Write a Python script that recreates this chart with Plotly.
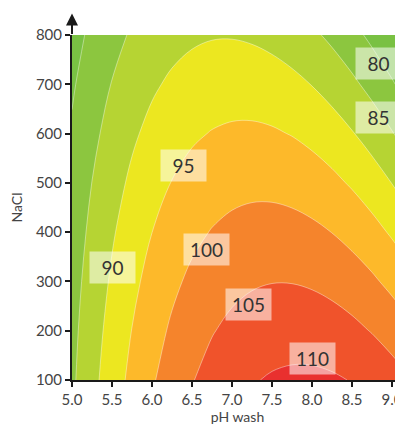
import plotly.graph_objects as go

# pH wash grid (x) and NaCl grid (y)
ph_values = [5.0, 5.25, 5.5, 5.75, 6.0, 6.25, 6.5, 6.75, 7.0, 7.25,
             7.5, 7.75, 8.0, 8.25, 8.5, 8.75, 9.0, 9.25, 9.5]
nacl_values = [100, 200, 300, 400, 500, 600, 700, 800]

# response values (rows follow nacl_values)
response = [
    [84.15, 88.58, 92.61, 96.25, 99.48, 102.31, 104.75, 106.78, 108.41, 109.65,
     110.48, 110.91, 110.95, 110.58, 109.81, 108.64, 107.08, 105.11, 102.74],
    [83.68, 87.89, 91.70, 95.10, 98.11, 100.71, 102.92, 104.73, 106.13, 107.14,
     107.74, 107.95, 107.76, 107.16, 106.17, 104.77, 102.98, 100.79, 98.19],
    [83.09, 87.07, 90.65, 93.83, 96.61, 98.99, 100.97, 102.54, 103.72, 104.50,
     104.88, 104.86, 104.44, 103.62, 102.40, 100.77, 98.75, 96.33, 93.51],
    [82.37, 86.12, 89.48, 92.43, 94.98, 97.13, 98.88, 100.23, 101.18, 101.74,
     101.89, 101.64, 100.99, 99.94, 98.49, 96.65, 94.40, 91.75, 88.70],
    [81.52, 85.05, 88.17, 90.90, 93.22, 95.14, 96.67, 97.79, 98.52, 98.84,
     98.77, 98.29, 97.41, 96.14, 94.46, 92.39, 89.91, 87.04, 83.76],
    [80.54, 83.84, 86.74, 89.23, 91.33, 93.03, 94.33, 95.22, 95.72, 95.82,
     95.51, 94.81, 93.71, 92.21, 90.30, 88.00, 85.30, 82.19, 78.69],
    [79.43, 82.50, 85.17, 87.44, 89.31, 90.78, 91.85, 92.52, 92.79, 92.66,
     92.13, 91.20, 89.87, 88.14, 86.01, 83.48, 80.55, 77.22, 73.49],
    [78.20, 81.04, 83.48, 85.53, 87.17, 88.41, 89.25, 89.70, 89.74, 89.38,
     88.62, 87.47, 85.91, 83.95, 81.60, 78.84, 75.68, 72.12, 68.17],
]

band_colors = ["#6abd45", "#79c143", "#8cc63f", "#b6d433", "#ece720",
               "#fdb92a", "#f5842c", "#f0532b", "#e9302f"]

label_texts = ["80", "85", "90", "95", "100", "105", "110"]
label_ph = [8.825, 8.825, 5.506, 6.394, 6.681, 7.206, 8.006]
label_nacl = [743, 633, 328, 535, 365, 253, 143]

x_ticks = [5.0, 5.5, 6.0, 6.5, 7.0, 7.5, 8.0, 8.5, 9.0]
y_ticks = [100, 200, 300, 400, 500, 600, 700, 800]

n = len(band_colors)
colorscale = [[i / (n - 1), c] for i, c in enumerate(band_colors)]

fig = go.Figure()
fig.add_trace(go.Contour(
    x=ph_values, y=nacl_values, z=response,
    contours=dict(start=75, end=110, size=5, coloring="fill", showlines=True),
    line=dict(color="rgba(255,255,255,0.5)", width=0.8, smoothing=1.0),
    colorscale=colorscale, zmin=72.5, zmax=112.5, zauto=False,
    showscale=False, hoverinfo="skip",
))

for t, xv, yv in zip(label_texts, label_ph, label_nacl):
    fig.add_annotation(x=xv, y=yv, text=t, showarrow=False,
                       bgcolor="rgba(255,255,255,0.55)", width=45, height=31,
                       borderpad=0, font=dict(size=19, color="#333333",
                                              family="Lato, Open Sans, sans-serif"))

# y-axis arrow
fig.add_annotation(x=0, y=1.062, xref="paper", yref="paper", ax=0, ay=22,
                   text="", showarrow=True, arrowhead=2, arrowsize=1.2,
                   arrowwidth=2, arrowcolor="#1a1a1a")

# page body keeps an 8px margin, so the figure is 8px smaller than the window
fig.update_layout(
    width=395, height=418,
    margin=dict(l=64, r=0, t=27, b=46, autoexpand=False),
    paper_bgcolor="white", plot_bgcolor="white",
    font=dict(family="Lato, Open Sans, sans-serif", size=15, color="#444444"),
    xaxis=dict(range=[5.0, 9.1375], tickvals=x_ticks, tickformat=".1f",
               automargin=False,
               showline=True, linecolor="#1a1a1a", linewidth=2,
               ticks="outside", ticklen=5, tickwidth=2, tickcolor="#1a1a1a",
               showgrid=False, zeroline=False,
               title=dict(text="pH wash", font=dict(size=14), standoff=3)),
    yaxis=dict(range=[100, 800], tickvals=y_ticks, automargin=False,
               showline=True, linecolor="#1a1a1a", linewidth=2,
               ticks="outside", ticklen=5, tickwidth=2, tickcolor="#1a1a1a",
               showgrid=False, zeroline=False,
               title=dict(text="NaCl", font=dict(size=14), standoff=12)),
)

fig.write_html("out.html")
